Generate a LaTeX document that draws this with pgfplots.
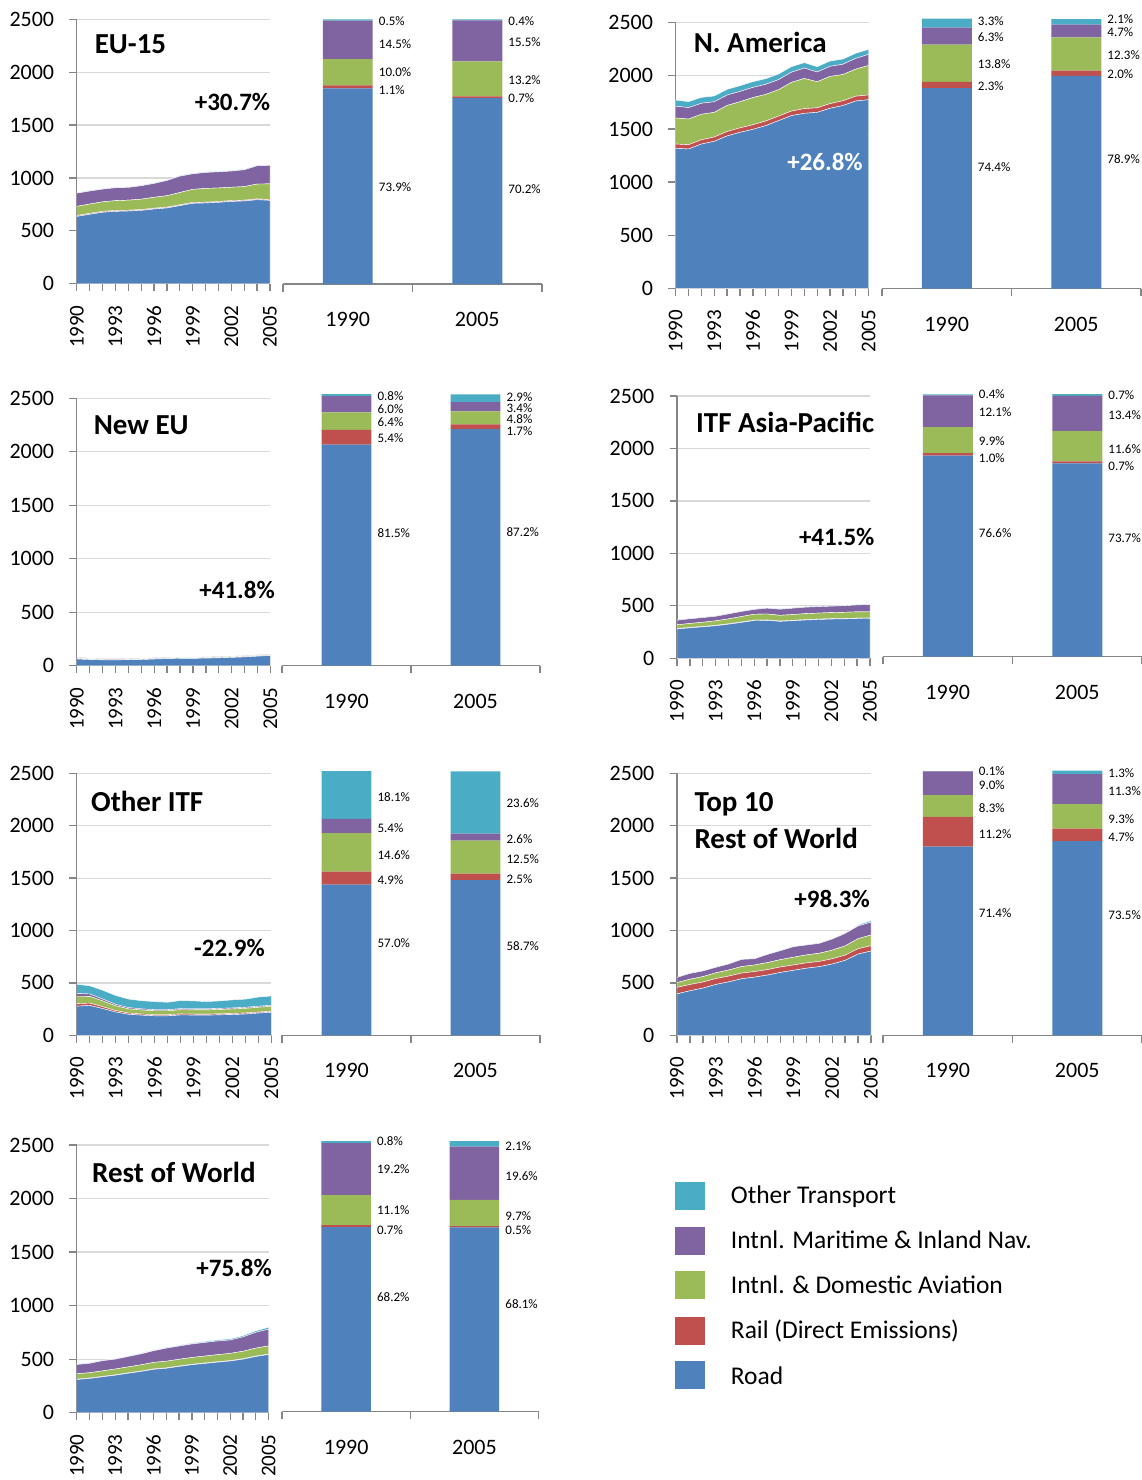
\documentclass[border=0pt]{standalone}
\usepackage{pgfplots}
\pgfplotsset{compat=1.18}
\usepackage{pgfplotstable}
\usepackage{fontspec}
\setmainfont{Carlito}

\definecolor{cRoad}{HTML}{4F81BD}
\definecolor{cRail}{HTML}{C0504D}
\definecolor{cAvi}{HTML}{9BBB59}
\definecolor{cMar}{HTML}{8064A2}
\definecolor{cOth}{HTML}{4BACC6}
\definecolor{axc}{HTML}{868686}
\definecolor{gridc}{HTML}{D9D9D9}

\newcommand{\fs}[1]{\fontsize{#1}{#1}\selectfont}

% ---------- area data (Mt CO2), year road rail aviation maritime other
\pgfplotstableread{
year road rail avi mar oth
1990 636 9 86 125 4
1991 656 9 88 123 4
1992 675 9 90 120 4
1993 684 9 92 122 4
1994 687 8 95 120 4
1995 693 8 98 127 4
1996 706 8 103 131 4
1997 716 8 108 144 4
1998 738 8 116 155 4
1999 760 8 124 147 4
2000 763 8 130 151 4
2001 769 8 128 153 4
2002 778 8 126 153 4
2003 782 8 128 159 4
2004 794 8 140 173 4
2005 788 8 148 174 4
}\tEU
\pgfplotstableread{
year road rail avi mar oth
1990 1317 41 245 111 58
1991 1311 40 242 108 56
1992 1358 40 240 104 55
1993 1383 41 232 100 54
1994 1434 42 245 98 54
1995 1468 42 246 97 54
1996 1496 43 256 96 54
1997 1531 43 251 95 53
1998 1578 43 248 95 53
1999 1625 43 270 96 52
2000 1647 44 284 98 51
2001 1656 43 245 92 50
2002 1694 44 256 95 50
2003 1720 45 247 97 49
2004 1763 45 255 101 48
2005 1775 45 277 105 47
}\tNA
\pgfplotstableread{
year road rail avi mar oth
1990 62.8 4.2 4.9 4.5 0.6
1991 57 3.8 4.4 4.2 0.6
1992 55 3.5 4.0 3.8 0.7
1993 55 3.3 4.0 3.9 0.8
1994 55.5 3.1 4.0 3.5 0.9
1995 57.5 2.9 4.1 3.5 1.0
1996 62 2.8 4.3 3.8 1.1
1997 66 2.7 4.4 3.6 1.3
1998 68 2.5 4.5 3.5 1.5
1999 68.5 2.4 4.5 3.0 1.6
2000 70.5 2.3 4.6 2.8 1.8
2001 73.5 2.2 4.6 2.7 2.0
2002 77.5 2.1 4.7 2.5 2.2
2003 82 2.0 4.9 2.6 2.5
2004 89 2.0 5.0 3.2 2.8
2005 95 1.9 5.2 3.7 3.2
}\tNE
\pgfplotstableread{
year road rail avi mar oth
1990 280 3.7 36 43.8 1.5
1991 290 3.7 38 44.7 1.6
1992 300 3.8 40 44.5 1.7
1993 310 3.8 43 43.4 1.8
1994 325 3.8 47 47.3 1.9
1995 342 3.8 52 48.2 2.0
1996 360 3.8 56 46.1 2.1
1997 362 3.8 57 55 2.2
1998 352 3.7 54 58 2.3
1999 358 3.7 55 60.9 2.4
2000 365 3.7 57 61.7 2.6
2001 370 3.7 57 61.5 2.8
2002 374 3.7 58 61.3 3.0
2003 376 3.6 59 63.2 3.2
2004 379 3.6 60 66 3.4
2005 380 3.6 60 68.8 3.6
}\tAP
\pgfplotstableread{
year road rail avi mar oth
1990 278 24 71 26 88
1991 285 22 65 22 78
1992 255 18 55 18 84
1993 222 14 45 14 85
1994 200 12 40 12 81
1995 192 11 38 11 78
1996 186 10 38 10 78
1997 186 10 38 10 71
1998 194 10 40 10 78
1999 193 10 40 10 75
2000 192 10 40 10 70
2001 195 10 42 10 71
2002 198 10 43 10 77
2003 203 10 44 10 78
2004 212 9.5 46 10 87.5
2005 220 9.4 47 10 88.6
}\tOI
\pgfplotstableread{
year road rail avi mar oth
1990 395 62 46 49.5 0.5
1991 425 60 50 55.5 0.5
1992 450 58 52 53.5 0.5
1993 485 56 55 52.5 0.5
1994 510 55 58 57.5 0.5
1995 540 54 62 68.5 0.5
1996 555 53 63 59.5 0.5
1997 575 52 67 78.5 0.5
1998 600 52 70 85.5 0.5
1999 620 51 74 100.5 0.5
2000 640 51 76 94.5 0.5
2001 655 50 78 94.5 0.5
2002 680 50 82 106.5 0.5
2003 715 50 88 119 1
2004 775 51 96 121 10
2005 804 51 102 123 14
}\tTT
\pgfplotstableread{
year road rail avi mar oth
1990 310 3.2 50 87.2 3.6
1991 320 3.3 50 87.7 4
1992 335 3.4 52 95.1 4.5
1993 350 3.5 54 92.5 5
1994 368 3.5 56 97 5.5
1995 385 3.6 58 102.4 6
1996 405 3.6 61 108.9 6.5
1997 415 3.7 62 122.3 7
1998 432 3.7 63 123.8 7.5
1999 448 3.8 64 126.2 8
2000 460 3.8 65 127.2 9
2001 472 3.8 66 128.2 10
2002 483 3.9 67 125.1 11
2003 500 3.9 70 134.1 12
2004 525 4 74 148 14
2005 543 4 77 157 17
}\tRW

% ---------- shares (%), 1990 at x=0.5, 2005 at x=1.5
\pgfplotstableread{
x road rail avi mar oth
0.5 73.9 1.1 10.0 14.5 0.5
1.5 70.2 0.7 13.2 15.5 0.4
}\bEU
\pgfplotstableread{
x road rail avi mar oth
0.5 74.4 2.3 13.8 6.3 3.3
1.5 78.9 2.0 12.3 4.7 2.1
}\bNA
\pgfplotstableread{
x road rail avi mar oth
0.5 81.5 5.4 6.4 6.0 0.8
1.5 87.2 1.7 4.8 3.4 2.9
}\bNE
\pgfplotstableread{
x road rail avi mar oth
0.5 76.6 1.0 9.9 12.1 0.4
1.5 73.7 0.7 11.6 13.4 0.7
}\bAP
\pgfplotstableread{
x road rail avi mar oth
0.5 57.0 4.9 14.6 5.4 18.1
1.5 58.7 2.5 12.5 2.6 23.6
}\bOI
\pgfplotstableread{
x road rail avi mar oth
0.5 71.4 11.2 8.3 9.0 0.1
1.5 73.5 4.7 9.3 11.3 1.3
}\bTT
\pgfplotstableread{
x road rail avi mar oth
0.5 68.2 0.7 11.1 19.2 0.8
1.5 68.1 0.5 9.7 19.6 2.1
}\bRW

\pgfplotsset{
  areastyle/.style={scale only axis, anchor=south west,
    axis on top=false,
    xmin=1990, xmax=2005, ymin=0, ymax=2500,
    stack plots=y,
    axis x line*=bottom, axis y line*=left,
    xtick={1990,...,2005},
    xticklabels={1990,,,1993,,,1996,,,1999,,,2002,,,2005},
    ytick={0,500,...,2500},
    ymajorgrids, grid style={line width=1.2pt, color=gridc},
    tick align=outside, major tick length=7.5pt,
    axis line style={line width=1.3pt, color=axc},
    every tick/.style={line width=1.3pt, color=axc},
    xticklabel style={rotate=90, anchor=east, font=\fs{21}, inner sep=0pt, xshift=-14pt},
    yticklabel style={font=\fs{22}, inner sep=0pt, xshift=-15pt},
    /pgf/number format/assume math mode=true,
    /pgf/number format/1000 sep={},
  },
  ar/.style={draw=white, line width=0.4pt},
  barstyle/.style={scale only axis, anchor=south west,
    xmin=0, xmax=2, ymin=0, ymax=100, enlargelimits=false,
    ybar stacked, bar width=0.386, clip=false,
    axis x line*=bottom, axis y line=none, ytick=\empty,
    xtick={0,1,2}, xticklabels={,,},
    extra x ticks={0.5,1.5}, extra x tick labels={1990,2005},
    extra x tick style={major tick length=0pt, xticklabel style={font=\fs{22}, inner sep=0pt, yshift=-28pt}},
    tick align=outside, major tick length=7.5pt,
    axis line style={line width=1.3pt, color=axc},
    every tick/.style={line width=1.3pt, color=axc},
  },
  br/.style={draw=none},
}
\tikzset{
  blab/.style={anchor=west, inner sep=0pt, xshift=6pt, font=\fs{13}},
  ttl/.style={anchor=base west, inner sep=0pt, font=\fs{29}\bfseries},
  grw/.style={anchor=base east, inner sep=0pt, font=\fs{25}\bfseries},
  leg/.style={anchor=base west, inner sep=0pt, font=\fs{25.5}},
}

\newcommand{\areaplots}[1]{%
  \addplot[fill=cRoad, ar] table[x=year,y=road]{#1} \closedcycle;
  \addplot[fill=cRail, ar] table[x=year,y=rail]{#1} \closedcycle;
  \addplot[fill=cAvi, ar] table[x=year,y=avi]{#1} \closedcycle;
  \addplot[fill=cMar, ar] table[x=year,y=mar]{#1} \closedcycle;
  \addplot[fill=cOth, ar] table[x=year,y=oth]{#1} \closedcycle;
}
\newcommand{\barplots}[1]{%
  \addplot[fill=cRoad, br] table[x=x,y=road]{#1};
  \addplot[fill=cRail, br] table[x=x,y=rail]{#1};
  \addplot[fill=cAvi, br] table[x=x,y=avi]{#1};
  \addplot[fill=cMar, br] table[x=x,y=mar]{#1};
  \addplot[fill=cOth, br] table[x=x,y=oth]{#1};
}
\newcommand{\bl}[3]{\node[blab] at (axis cs:#1,#2) {#3};}

\begin{document}
\begin{tikzpicture}
\useasboundingbox (0,0) rectangle (1142pt,-1480pt);

% ================= Panel 1: EU-15
\begin{axis}[areastyle, at={(76.8pt,-283.7pt)}, width=193.2pt, height=264.4pt]
\areaplots{\tEU}
\end{axis}
\begin{axis}[barstyle, at={(283pt,-284pt)}, width=259pt, height=264.7pt]
\barplots{\bEU}
\bl{0.693}{99.4}{0.5\%}\bl{0.693}{90.7}{14.5\%}\bl{0.693}{79.9}{10.0\%}\bl{0.693}{73.3}{1.1\%}\bl{0.693}{36.5}{73.9\%}
\bl{1.693}{99.4}{0.4\%}\bl{1.693}{91.3}{15.5\%}\bl{1.693}{77.1}{13.2\%}\bl{1.693}{70.1}{0.7\%}\bl{1.693}{35.9}{70.2\%}
\end{axis}
\node[ttl] at (94.6pt,-53.3pt) {EU-15};
\node[grw] at (270.4pt,-110.5pt) {+30.7\%};

% ================= Panel 2: N. America
\begin{axis}[areastyle, at={(675.7pt,-288.3pt)}, width=192.9pt, height=265.6pt]
\areaplots{\tNA}
\end{axis}
\begin{axis}[barstyle, at={(882pt,-288.7pt)}, width=259pt, height=269.7pt]
\barplots{\bNA}
\bl{0.693}{99.3}{3.3\%}\bl{0.693}{93.4}{6.3\%}\bl{0.693}{83.3}{13.8\%}\bl{0.693}{75.2}{2.3\%}\bl{0.693}{45.2}{74.4\%}
\bl{1.693}{100}{2.1\%}\bl{1.693}{95.1}{4.7\%}\bl{1.693}{86.7}{12.3\%}\bl{1.693}{79.6}{2.0\%}\bl{1.693}{48.0}{78.9\%}
\end{axis}
\node[ttl] at (693.6pt,-52.7pt) {N. America};
\node[grw, text=white] at (862.9pt,-170.5pt) {+26.8\%};

% ================= Panel 3: New EU
\begin{axis}[areastyle, at={(76.8pt,-665.7pt)}, width=193.6pt, height=267.4pt]
\areaplots{\tNE}
\end{axis}
\begin{axis}[barstyle, at={(282pt,-665.7pt)}, width=258pt, height=271.4pt]
\barplots{\bNE}
\bl{0.693}{99.4}{0.8\%}\bl{0.693}{94.5}{6.0\%}\bl{0.693}{89.7}{6.4\%}\bl{0.693}{83.8}{5.4\%}\bl{0.693}{48.8}{81.5\%}
\bl{1.693}{99.0}{2.9\%}\bl{1.693}{95.0}{3.4\%}\bl{1.693}{90.9}{4.8\%}\bl{1.693}{86.6}{1.7\%}\bl{1.693}{49.1}{87.2\%}
\end{axis}
\node[ttl] at (93.6pt,-434pt) {New EU};
\node[grw] at (275pt,-598.3pt) {+41.8\%};

% ================= Panel 4: ITF Asia-Pacific
\begin{axis}[areastyle, at={(677pt,-658.3pt)}, width=193pt, height=262.3pt]
\areaplots{\tAP}
\end{axis}
\begin{axis}[barstyle, at={(883pt,-656.7pt)}, width=259pt, height=262.4pt]
\barplots{\bAP}
\bl{0.693}{100}{0.4\%}\bl{0.693}{93.1}{12.1\%}\bl{0.693}{82.2}{9.9\%}\bl{0.693}{75.7}{1.0\%}\bl{0.693}{47.0}{76.6\%}
\bl{1.693}{99.7}{0.7\%}\bl{1.693}{92.1}{13.4\%}\bl{1.693}{79.2}{11.6\%}\bl{1.693}{72.7}{0.7\%}\bl{1.693}{45.1}{73.7\%}
\end{axis}
\node[ttl] at (696pt,-432.7pt) {ITF Asia-Pacific};
\node[grw] at (874.6pt,-545pt) {+41.5\%};

% ================= Panel 5: Other ITF
\begin{axis}[areastyle, at={(76.8pt,-1035.3pt)}, width=194.6pt, height=262pt]
\areaplots{\tOI}
\end{axis}
\begin{axis}[barstyle, at={(282pt,-1035.3pt)}, width=258pt, height=264.3pt]
\barplots{\bOI}
\bl{0.693}{90.0}{18.1\%}\bl{0.693}{78.3}{5.4\%}\bl{0.693}{68.1}{14.6\%}\bl{0.693}{58.8}{4.9\%}\bl{0.693}{34.8}{57.0\%}
\bl{1.693}{87.8}{23.6\%}\bl{1.693}{74.1}{2.6\%}\bl{1.693}{66.6}{12.5\%}\bl{1.693}{59.1}{2.5\%}\bl{1.693}{33.8}{58.7\%}
\end{axis}
\node[ttl] at (91pt,-811pt) {Other ITF};
\node[grw] at (265pt,-956.7pt) {-22.9\%};

% ================= Panel 6: Top 10 Rest of World
\begin{axis}[areastyle, at={(677pt,-1035.3pt)}, width=194pt, height=262pt]
\areaplots{\tTT}
\end{axis}
\begin{axis}[barstyle, at={(883pt,-1035.3pt)}, width=259pt, height=264.3pt]
\barplots{\bTT}
\bl{0.693}{100}{0.1\%}\bl{0.693}{94.7}{9.0\%}\bl{0.693}{85.9}{8.3\%}\bl{0.693}{76.2}{11.2\%}\bl{0.693}{46.2}{71.4\%}
\bl{1.693}{99.1}{1.3\%}\bl{1.693}{92.4}{11.3\%}\bl{1.693}{81.7}{9.3\%}\bl{1.693}{74.9}{4.7\%}\bl{1.693}{45.5}{73.5\%}
\end{axis}
\node[ttl] at (694.3pt,-811.7pt) {Top 10};
\node[ttl] at (694.3pt,-848.3pt) {Rest of World};
\node[grw] at (870pt,-907.7pt) {+98.3\%};

% ================= Panel 7: Rest of World
\begin{axis}[areastyle, at={(76.8pt,-1412.7pt)}, width=191.8pt, height=267.7pt]
\areaplots{\tRW}
\end{axis}
\begin{axis}[barstyle, at={(282pt,-1411.7pt)}, width=256.6pt, height=270.7pt]
\barplots{\bRW}
\bl{0.693}{100}{0.8\%}\bl{0.693}{89.7}{19.2\%}\bl{0.693}{74.6}{11.1\%}\bl{0.693}{67.2}{0.7\%}\bl{0.693}{42.5}{68.2\%}
\bl{1.693}{98.2}{2.1\%}\bl{1.693}{87.1}{19.6\%}\bl{1.693}{72.3}{9.7\%}\bl{1.693}{67.2}{0.5\%}\bl{1.693}{39.7}{68.1\%}
\end{axis}
\node[ttl] at (92pt,-1182.7pt) {Rest of World};
\node[grw] at (272pt,-1276.7pt) {+75.8\%};

% ================= Legend
\fill[cOth]  (675pt,-1181.7pt) rectangle (705pt,-1209.7pt);
\fill[cMar]  (675pt,-1226.7pt) rectangle (705pt,-1254.7pt);
\fill[cAvi]  (675pt,-1271.3pt) rectangle (705pt,-1299.3pt);
\fill[cRail] (675pt,-1316.7pt) rectangle (705pt,-1344.7pt);
\fill[cRoad] (675pt,-1361pt) rectangle (705pt,-1389pt);
\node[leg] at (730.7pt,-1203.5pt) {Other Transport};
\node[leg] at (730.7pt,-1248.5pt) {Intnl. Maritime \& Inland Nav.};
\node[leg] at (730.7pt,-1293.5pt) {Intnl. \& Domestic Aviation};
\node[leg] at (730.7pt,-1338.5pt) {Rail (Direct Emissions)};
\node[leg] at (730.7pt,-1384pt) {Road};
\end{tikzpicture}
\end{document}
